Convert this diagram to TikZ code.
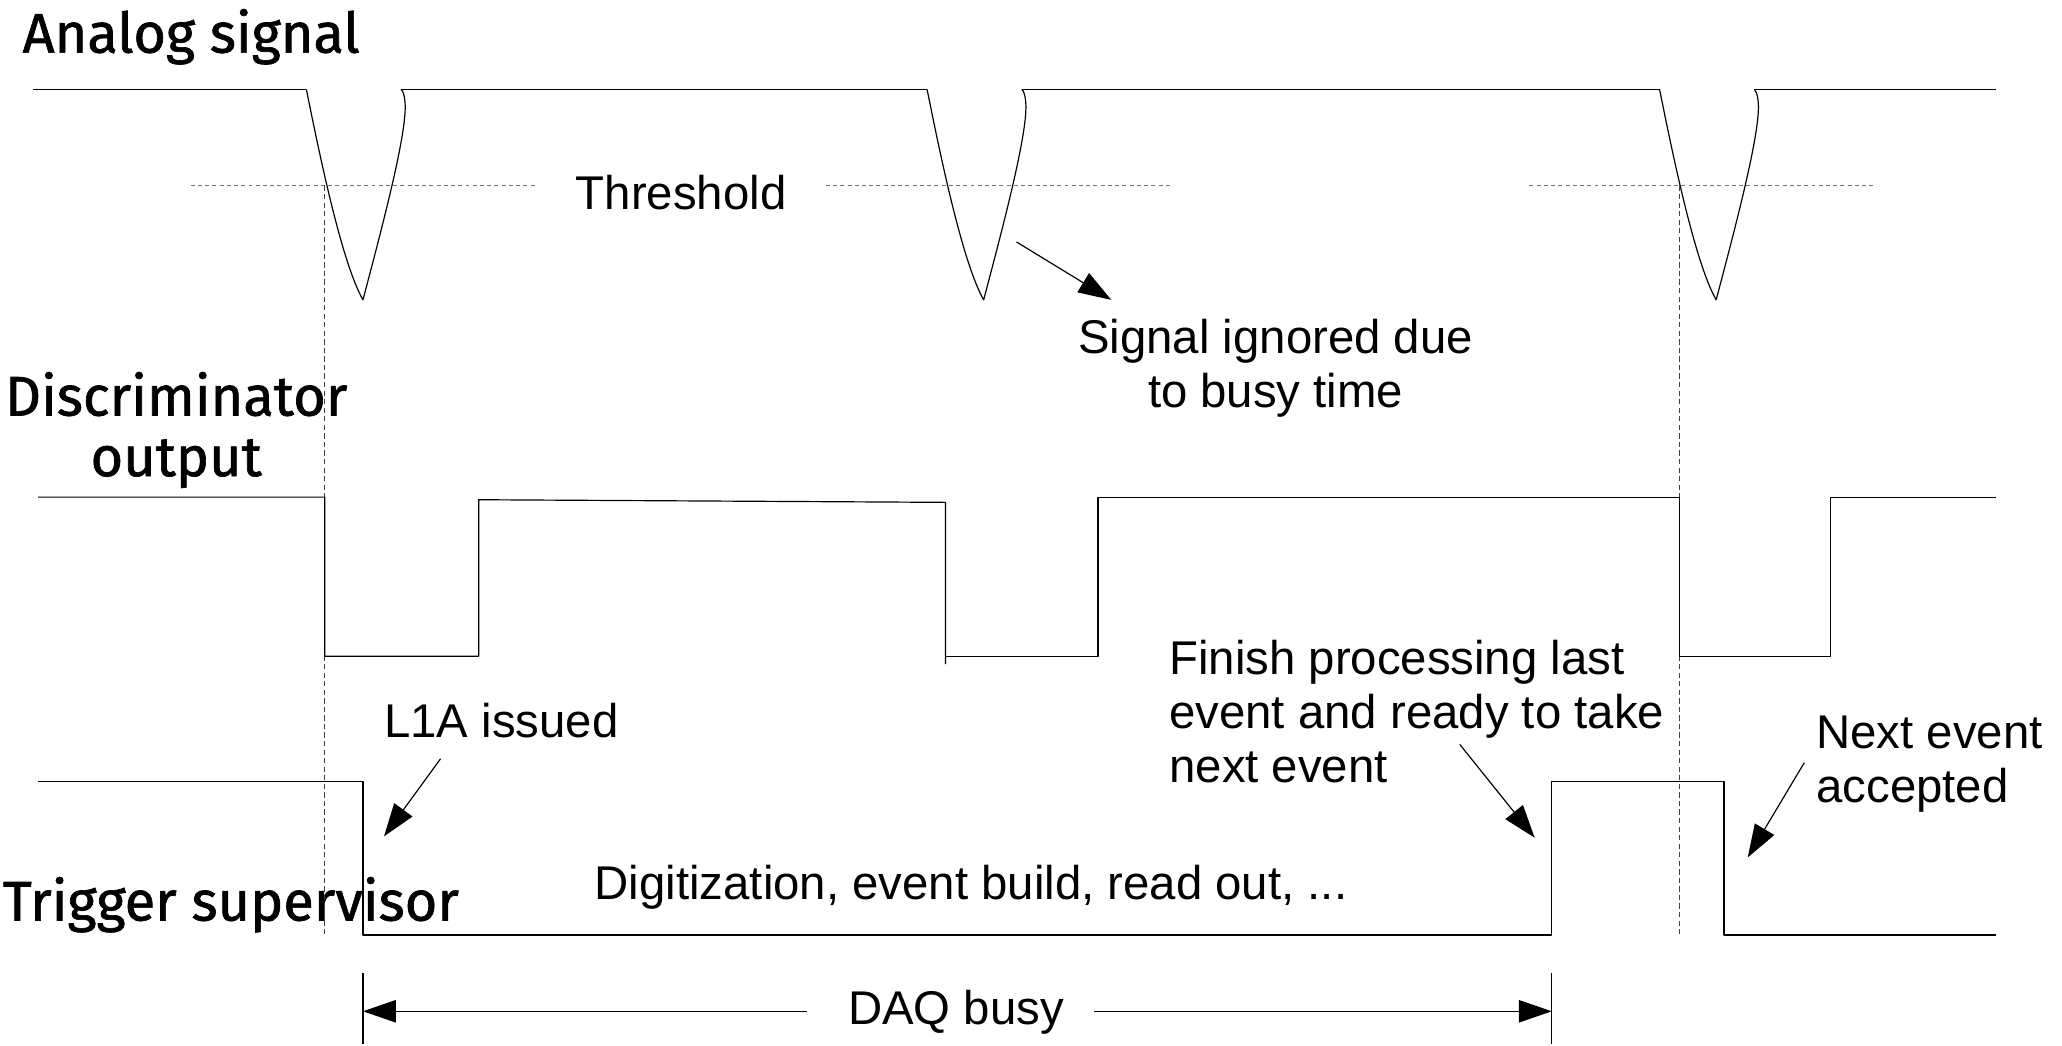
\documentclass[tikz,border=0pt]{standalone}
\usepackage{fontspec}
\usetikzlibrary{arrows.meta}
\newfontfamily\txtfont{Liberation Sans}
\newfontfamily\lblfont[FakeBold=1.2]{Fira Sans}
\newcommand{\mlc}[1]{\begin{tabular}[t]{@{}c@{}}#1\end{tabular}}
\newcommand{\mll}[1]{\begin{tabular}[t]{@{}l@{}}#1\end{tabular}}
\tikzset{
  sig/.style={line width=0.9pt, line join=round},
  thr/.style={black!55, line width=0.9pt, dash pattern=on 3pt off 2.5pt},
  vguide/.style={black!75, line width=0.9pt, dash pattern=on 4pt off 2.5pt},
  txt/.style={inner sep=0pt, font=\fontsize{36}{41}\selectfont\txtfont},
  lbl/.style={inner sep=0pt, font=\fontsize{42.5}{46}\selectfont\lblfont},
  arr/.style={line width=0.9pt, -{Triangle[length=25pt,width=17pt]}},
  sigpulse/.pic={\draw[sig] (0,0) .. controls (10,50) and (27,132) .. (43,160)
     .. controls (57,107) and (77,32) .. (75,10) .. controls (74.5,3) and (73,1) .. (72,0);}
}
\begin{document}
\begin{tikzpicture}[x=1pt,y=-1pt]
\useasboundingbox (0,0) rectangle (1568,795);
% labels
\node[lbl, anchor=base west] (ana) at (17,40) {Analog signal};
\node[lbl, anchor=base] (dsc) at (134,316) {\mlc{Discriminator\\output}};
\node[lbl, anchor=base west] (trg) at (2,700) {Trigger supervisor};
% analog signal
\draw[sig] (25,68) -- (233,68);
\pic at (233,68) {sigpulse};
\draw[sig] (305,68) -- (705,68);
\pic at (705,68) {sigpulse};
\draw[sig] (777,68) -- (1262,68);
\pic at (1262,68) {sigpulse};
\draw[sig] (1334,68) -- (1518,68);
% threshold
\draw[thr] (145,141) -- (408,141);
\draw[thr] (628,141) -- (890,141);
\draw[thr] (1163,141) -- (1425,141);
\node[txt, anchor=base] (thrtxt) at (518,159) {Threshold};
% vertical guides
\draw[vguide] (247,141) -- (247,712);
\draw[vguide] (1277,141) -- (1277,712);
% discriminator
\draw[sig] (29,378) -- (247,378) -- (247,499) -- (364,499) -- (364,380) -- (719,382) -- (719,505);
\draw[sig] (719,499) -- (835,499) -- (835,378) -- (1277,378) -- (1277,499) -- (1392,499) -- (1392,378) -- (1518,378);
% trigger supervisor
\draw[sig] (29,594) -- (276,594) -- (276,711) -- (1180,711) -- (1180,594) -- (1311,594) -- (1311,711) -- (1518,711);
% texts
\node[txt, anchor=base] (ign) at (970,269) {\mlc{Signal ignored due\\to busy time}};
\node[txt, anchor=base west] (l1a) at (292,561) {L1A issued};
\node[txt, anchor=base west] (fin) at (889,513) {\mll{Finish processing last\\event and ready to take\\next event}};
\node[txt, anchor=base west] (nxt) at (1381,569) {\mll{Next event\\accepted}};
\node[txt, anchor=base west] (dig) at (452,684) {Digitization, event build, read out, ...};
\node[txt, anchor=base] (daq) at (727,779) {DAQ busy};
% arrows
\coordinate (ignS) at (773,184); \coordinate (ignE) at (845,228);
\draw[arr] (ignS) -- (ignE);
\coordinate (l1aS) at (335,577); \coordinate (l1aE) at (292,636);
\draw[arr] (l1aS) -- (l1aE);
\coordinate (finS) at (1110,566); \coordinate (finE) at (1167,637);
\draw[arr] (finS) -- (finE);
\coordinate (nxtS) at (1372,580); \coordinate (nxtE) at (1329,652);
\draw[arr] (nxtS) -- (nxtE);
% DAQ busy
\coordinate (busyL) at (276,769); \coordinate (busyR) at (1180,769);
\coordinate (daqL) at (614,769); \coordinate (daqR) at (832,769);
\draw[sig] (276,740) -- (276,794);
\draw[sig] (1180,740) -- (1180,794);
\draw[arr] (daqL) -- (busyL);
\draw[arr] (daqR) -- (busyR);
\end{tikzpicture}
\end{document}
